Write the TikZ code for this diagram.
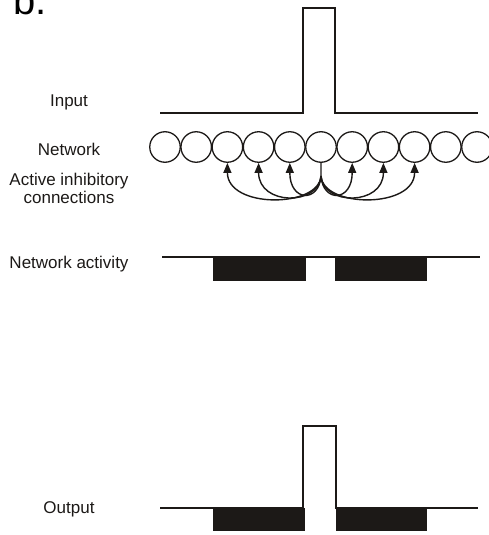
\documentclass[tikz,border=0pt]{standalone}
\usepackage{fontspec}
\setmainfont{Liberation Sans}
\usetikzlibrary{arrows.meta,calc}
\definecolor{ink}{HTML}{1C1917}
\tikzset{
  trace/.style={line width=1.6pt, draw=ink},
  block/.style={fill=ink, draw=none},
  neuron/.style={circle, draw=ink, line width=1.3pt, minimum size=30.5pt, inner sep=0pt},
  inhib/.style={line width=1.4pt, draw=ink, -{Triangle[length=10pt,width=8pt]}},
  lbl/.style={font=\fontsize{17}{19}\selectfont, text=ink, anchor=base, inner sep=0pt}
}
\begin{document}
\begin{tikzpicture}[x=1pt, y=-1pt]
\useasboundingbox (0,0) rectangle (488,535);

% panel letter
\node[font=\fontsize{40}{40}\selectfont, anchor=base west, inner sep=0pt] (panel) at (13,15) {b.};

% row labels
\node[lbl] (linput) at (69,106) {Input};
\node[lbl] (lnet) at (69,155) {Network};
\node[lbl] (lact1) at (69,185) {Active inhibitory};
\node[lbl] (lact2) at (69,203) {connections};
\node[lbl] (lnact) at (69,268) {Network activity};
\node[lbl] (lout) at (69,513) {Output};

% input pulse
\draw[trace] (160,113) -- (303,113) -- (303,8) -- (335,8) -- (335,113) -- (478,113);

% network of units
\foreach \i in {1,...,11} {
  \node[neuron] (c\i) at ({165+31.2*(\i-1)},147) {};
}

% inhibitory connections from the active unit
\coordinate (hub) at (321,176);
\draw[line width=1.4pt, draw=ink] (c6.south) -- (hub);
\draw[inhib] (hub) .. controls (319,208) and ($(c3.south)+(0,46)$) .. (c3.south);
\draw[inhib] (hub) .. controls (319,206) and ($(c4.south)+(0,43)$) .. (c4.south);
\draw[inhib] (hub) .. controls (319,203) and ($(c5.south)+(0,39)$) .. (c5.south);
\draw[inhib] (hub) .. controls (323,203) and ($(c7.south)+(0,39)$) .. (c7.south);
\draw[inhib] (hub) .. controls (323,206) and ($(c8.south)+(0,43)$) .. (c8.south);
\draw[inhib] (hub) .. controls (323,208) and ($(c9.south)+(0,46)$) .. (c9.south);

% network activity
\draw[trace] (162,257) -- (480,257);
\fill[block] (213,257) rectangle (306,281);
\fill[block] (335,257) rectangle (427,281);

% output
\fill[block] (213,508) rectangle (305,531);
\fill[block] (336,508) rectangle (427,531);
\draw[trace] (160,508) -- (303,508) -- (303,426) -- (336,426) -- (336,508) -- (478,508);

\end{tikzpicture}
\end{document}
